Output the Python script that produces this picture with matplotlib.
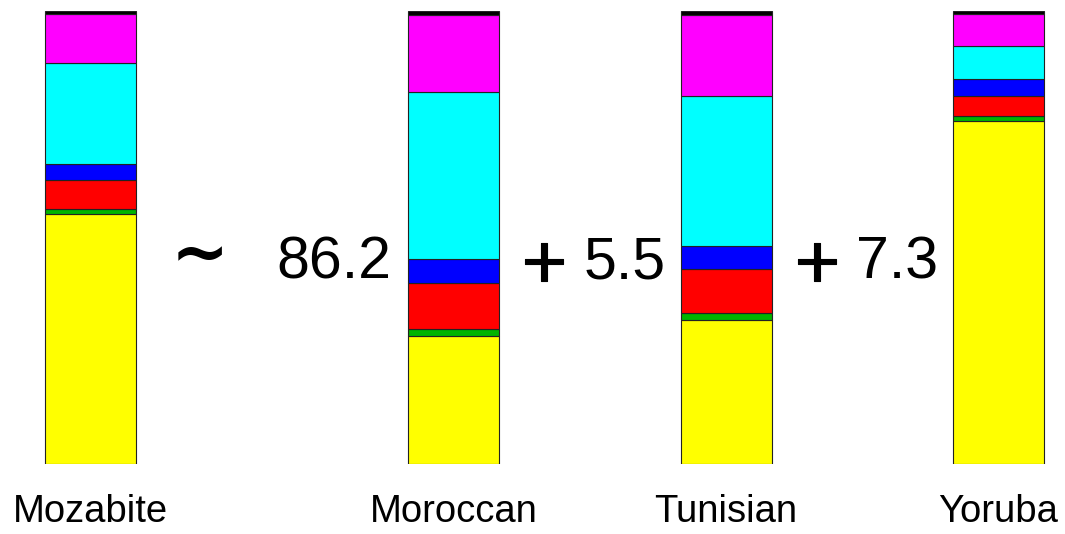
import numpy as np
import matplotlib
matplotlib.use("Agg")
import matplotlib.pyplot as plt
import matplotlib.patheffects as pe

populations = ["Mozabite", "Moroccan", "Tunisian", "Yoruba"]
# ancestry fractions per cluster, bottom to top
yellow = [0.552, 0.283, 0.318, 0.759]
green = [0.011, 0.015, 0.015, 0.010]
red = [0.064, 0.102, 0.097, 0.044]
blue = [0.035, 0.053, 0.051, 0.037]
cyan = [0.224, 0.369, 0.331, 0.073]
magenta = [0.107, 0.170, 0.179, 0.071]
black = [0.007, 0.009, 0.009, 0.007]

# mixture: Mozabite ~ 86.2 Moroccan + 5.5 Tunisian + 7.3 Yoruba
operators = ["~", "+", "+"]
coefficients = ["86.2", "5.5", "7.3"]

clusters = [
    (yellow, "#ffff00"),
    (green, "#00b400"),
    (red, "#ff0000"),
    (blue, "#0000ff"),
    (cyan, "#00ffff"),
    (magenta, "#ff00ff"),
    (black, "#000000"),
]

plt.rcParams["font.family"] = ["Liberation Sans", "DejaVu Sans"]

fig = plt.figure(figsize=(10.65, 5.34), dpi=100)
ax = fig.add_axes([0, 1 - 464 / 534, 1, (464 - 11) / 534])
ax.set_xlim(0, 1065)
ax.set_ylim(0, 1)
ax.axis("off")

xpos = np.array([90, 453.5, 726, 998.5])
width = 91

tot = np.zeros(4)
for vals, col in clusters:
    tot += np.array(vals)

bottom = np.zeros(4)
for vals, col in clusters:
    v = np.array(vals) / tot
    ax.bar(xpos, v, width=width, bottom=bottom, color=col,
           edgecolor="#222222", linewidth=0.8)
    bottom += v

def ypix(p):
    return 1 - (p - 11) / (464 - 11)

# formula between the bars
op_x = [200, 544, 817]
num_x = [334, 625, 897]
for op, x in zip(operators, op_x):
    if op == "~":
        ax.text(x, ypix(257), op, ha="center", va="center", fontsize=50,
                fontweight="bold", family="DejaVu Sans")
    else:
        ax.text(x, ypix(267), op, ha="center", va="center", fontsize=56,
                path_effects=[pe.withStroke(linewidth=0.8, foreground="black")])
for s, x in zip(coefficients, num_x):
    ax.text(x, ypix(263), s, ha="center", va="center", fontsize=42.5)

for x, s in zip(xpos, populations):
    ax.text(x, ypix(512), s, ha="center", va="center", fontsize=27.5)

fig.savefig("out.png", dpi=100)
